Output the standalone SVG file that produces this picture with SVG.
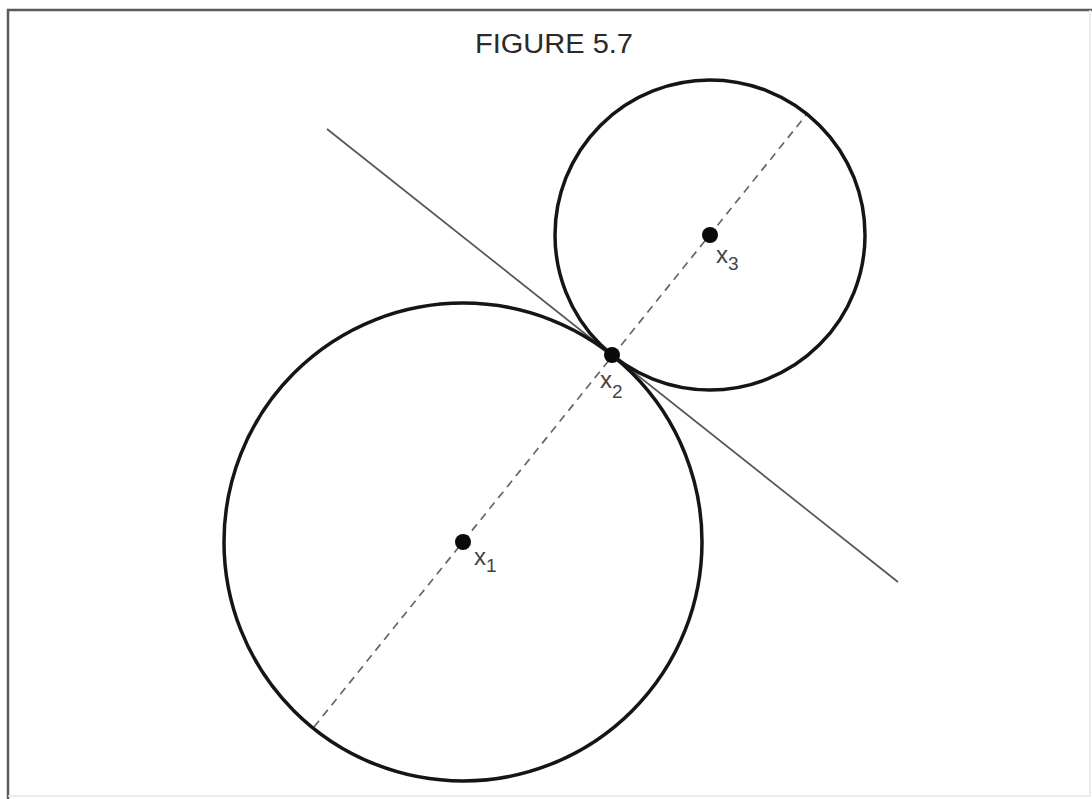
<svg xmlns="http://www.w3.org/2000/svg" width="1092" height="799" viewBox="0 0 1092 799">
<style>
.circ{fill:none;stroke:#151515;stroke-width:3.5}
.dash{fill:none;stroke:#666;stroke-width:1.7;stroke-dasharray:8 6}
.tan{fill:none;stroke:#555;stroke-width:1.7}
.dot{fill:#0a0a0a}
.lbl{font-family:"Liberation Sans",Arial,sans-serif;font-size:24px;fill:#444}
.sub{font-size:19px}
.title{font-family:"Liberation Sans",Arial,sans-serif;font-size:27px;fill:#2a2a2a}
</style>
<rect width="1092" height="799" fill="#fff"/>
<g id="frame">
<path d="M8,799 V10 H1092" fill="none" stroke="#5a5a5a" stroke-width="2.5"/>
<path d="M8,796 H1090 V10" fill="none" stroke="#e6e6e6" stroke-width="1.5"/>
</g>
<text class="title" x="475" y="53" textLength="158" lengthAdjust="spacingAndGlyphs">FIGURE 5.7</text>
<g id="connectors">
<line class="dash" x1="314" y1="727" x2="807" y2="114"/>
<line class="tan" x1="327" y1="129" x2="898" y2="582"/>
</g>
<g id="circle-x1"><circle class="circ" cx="463" cy="542" r="239"/></g>
<g id="circle-x3"><circle class="circ" cx="710" cy="235" r="155"/></g>
<g id="node-x1">
<circle class="dot" cx="463" cy="542" r="8"/>
<text class="lbl" x="474" y="565">x<tspan class="sub" dy="7">1</tspan></text>
</g>
<g id="node-x2">
<circle class="dot" cx="612" cy="355" r="8"/>
<text class="lbl" x="600" y="388">x<tspan class="sub" dy="10">2</tspan></text>
</g>
<g id="node-x3">
<circle class="dot" cx="710" cy="235" r="8"/>
<text class="lbl" x="716" y="263">x<tspan class="sub" dy="7">3</tspan></text>
</g>
</svg>
